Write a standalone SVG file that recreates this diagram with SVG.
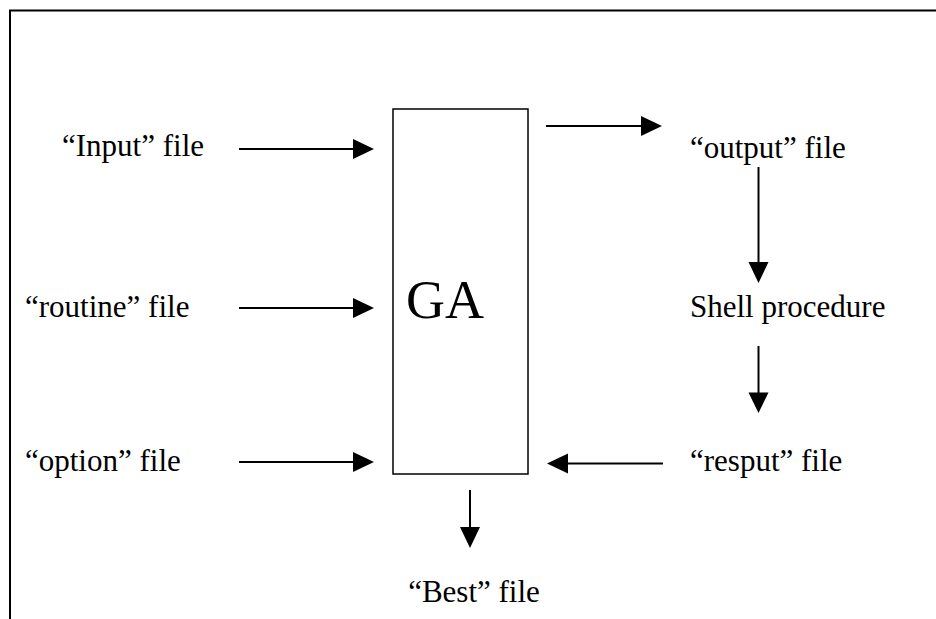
<svg xmlns="http://www.w3.org/2000/svg" width="936" height="619" viewBox="0 0 936 619">
<style>
text{font-family:"Liberation Serif","Times New Roman",serif;font-size:31px;fill:#000}
.ln{stroke:#000;stroke-width:2;fill:none}
.hd{fill:#000}
</style>
<rect width="936" height="619" fill="#fff"/>
<g id="frame"><path d="M10,619 V10.5 H936" stroke="#000" stroke-width="2" fill="none"/></g>
<g id="ga"><rect x="393" y="109" width="135" height="365" fill="none" stroke="#000" stroke-width="1.5"/><text x="406" y="318" style="font-size:54px">GA</text></g>
<g id="input"><text x="62" y="156">“Input” file</text></g>
<g id="routine"><text x="25" y="317">“routine” file</text></g>
<g id="option"><text x="25" y="471">“option” file</text></g>
<g id="output"><text x="690" y="158">“output” file</text></g>
<g id="shell"><text x="690" y="317">Shell procedure</text></g>
<g id="resput"><text x="690" y="471">“resput” file</text></g>
<g id="best"><text x="474" y="602" text-anchor="middle">“Best” file</text></g>
<g id="connectors">
<line class="ln" x1="239" y1="149" x2="355" y2="149"/><polygon class="hd" points="353,139 374,149 353,159"/>
<line class="ln" x1="239" y1="308" x2="355" y2="308"/><polygon class="hd" points="353,298 374,308 353,318"/>
<line class="ln" x1="239" y1="462" x2="355" y2="462"/><polygon class="hd" points="353,452 374,462 353,472"/>
<line class="ln" x1="546" y1="126" x2="643" y2="126"/><polygon class="hd" points="641,116 662,126 641,136"/>
<line class="ln" x1="663" y1="463.5" x2="566" y2="463.5"/><polygon class="hd" points="568,453.5 547,463.5 568,473.5"/>
<line class="ln" x1="758.5" y1="167" x2="758.5" y2="264"/><polygon class="hd" points="748.5,262 758.5,283 768.5,262"/>
<line class="ln" x1="758.5" y1="346" x2="758.5" y2="394"/><polygon class="hd" points="748.5,392.5 758.5,413 768.5,392.5"/>
<line class="ln" x1="470" y1="490" x2="470" y2="529"/><polygon class="hd" points="460,527 470,548 480,527"/>
</g>
</svg>
